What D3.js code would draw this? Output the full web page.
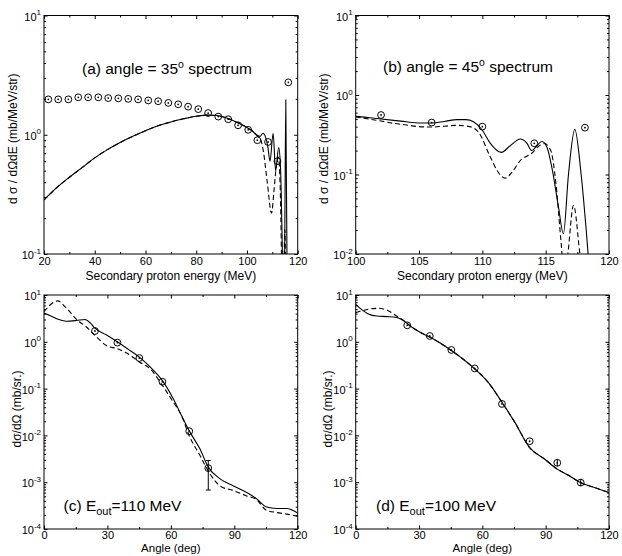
<!DOCTYPE html>
<html><head><meta charset="utf-8">
<script src="https://cdn.jsdelivr.net/npm/d3@7"></script>
<style>
body{margin:0;background:#fff}
svg text{font-family:"Liberation Sans",Arial,Helvetica,sans-serif;fill:#000}
</style>
</head><body>
<svg id="chart" width="622" height="556"></svg>
<script>
// ---------------- data ----------------
// (a) 35 degree spectrum
const expA_E = [21.7,25.6,29.6,33.5,37.4,41.4,45.3,49.3,53.2,57.1,61.1,65.0,69.0,72.9,76.8,80.8,84.7,88.7,92.6,96.5,100.5,104.1,108.3,112.0,116.3];
const expA_S = [1.98,1.98,1.98,2.06,2.06,2.06,2.03,2.02,2.00,1.98,1.94,1.91,1.85,1.80,1.72,1.64,1.52,1.42,1.35,1.20,1.10,0.90,0.87,0.60,2.75];
const solidA_E = [20,25,30,35,40,45,50,55,60,65,70,75,80,85,88,92,96,100,102,104,105.2,106.3,107.3,108.2,109.1,110.3,111.3,112.5,113.2,113.9,114.3,114.7,115.3,115.9,116.5];
const solidA_S = [0.284,0.36,0.44,0.53,0.64,0.75,0.86,0.97,1.08,1.19,1.28,1.36,1.43,1.46,1.45,1.38,1.27,1.15,1.08,0.99,0.97,1.03,0.96,0.80,0.60,1.03,0.50,0.78,0.55,0.12,0.04,0.04,1.96,0.04,0.03];
const dashA_E = [20,25,30,35,40,45,50,55,60,65,70,75,80,85,88,92,96,100,102,104,105.2,106.5,108,109.7,110.6,111.6,112.4,113.2,113.8,114.3,114.9,115.4];
const dashA_S = [0.284,0.36,0.44,0.53,0.64,0.75,0.86,0.97,1.08,1.19,1.28,1.36,1.43,1.46,1.45,1.38,1.27,1.15,1.08,0.98,0.93,0.72,0.40,0.22,0.33,0.55,0.65,0.30,0.06,0.03,0.16,0.03];

// (b) 45 degree spectrum
const expB_E = [102.0,106.0,110.0,114.1,118.1];
const expB_S = [0.56,0.45,0.40,0.247,0.388];
const solidB_E = [100,101,102,103,104,105,106,107,108,108.7,109.3,110,110.6,111.5,112.2,113,113.5,113.9,114.3,114.7,115.1,115.5,116,116.4,116.8,117.3,117.8,118.2,118.5];
const solidB_S = [0.54,0.52,0.50,0.48,0.46,0.445,0.445,0.465,0.49,0.49,0.46,0.36,0.25,0.19,0.23,0.28,0.25,0.20,0.23,0.26,0.22,0.12,0.04,0.018,0.10,0.37,0.10,0.02,0.005];
const dashB_E = [100,101,102,103,104,105,106,107,108,109,109.7,110.6,111.2,111.8,112.4,113,113.9,114.5,114.9,115.4,115.8,116.2,116.5,116.75,117.2,117.7,118];
const dashB_S = [0.53,0.50,0.47,0.44,0.42,0.40,0.395,0.405,0.415,0.40,0.34,0.17,0.11,0.09,0.11,0.15,0.185,0.23,0.245,0.20,0.08,0.015,0.005,0.01,0.041,0.01,0.004];

// (c) angular distribution, E_out = 110 MeV
const expC_A = [24.1,34.7,45.1,56.0,68.7,77.7];
const expC_S = [1.7,0.96,0.45,0.14,0.0123,0.002];
const errC_A = [77.7];
const errC_lo = [0.00068];
const errC_hi = [0.0029];
const solidC_A = [0,3,6,10.7,15.4,19.4,22,24.1,29.6,34.7,39.9,45.1,50.2,56,61.2,65.1,68.7,73.8,77.7,83.3,89.6,95.9,100.6,105.3,110,114.8,120];
const solidC_S = [4.1,3.6,3.1,2.75,2.85,3.0,2.5,1.95,1.4,1.0,0.69,0.47,0.29,0.148,0.06,0.0262,0.0125,0.0051,0.0021,0.00118,0.00083,0.0006,0.00044,0.000295,0.000275,0.000275,0.000218];
const dashC_A = [0,3,6.5,10,13,15.4,19.4,24.1,29.6,34.7,39.9,45.1,50.2,56,61.2,65.1,68.7,73.8,77.7,83.3,89.6,95.9,100.6,105.3,110,114.8,120];
const dashC_S = [4.4,6.2,7.5,5.6,4.0,3.0,2.2,1.37,0.83,0.71,0.55,0.37,0.265,0.117,0.051,0.0262,0.0098,0.0037,0.00173,0.00083,0.00066,0.00051,0.00042,0.00025,0.000225,0.000208,0.000186];

// (d) angular distribution, E_out = 100 MeV
const expD_A = [24.4,35.1,45.3,56.4,69.3,82.4,95.5,106.6];
const expD_S = [2.25,1.33,0.67,0.27,0.047,0.0075,0.0026,0.00098];
const errD_A = [95.5,106.6];
const errD_lo = [0.0022,0.00083];
const errD_hi = [0.0031,0.00116];
const solidD_A = [0,3,6,10,15,19.4,22,26.5,30.5,35.1,40,45.3,50.5,56.4,62.7,69.3,75.4,82.4,89.6,95.5,101,106.6,112,120];
const solidD_S = [6.3,4.8,3.95,3.55,3.45,3.3,2.95,2.07,1.6,1.26,0.94,0.65,0.44,0.264,0.137,0.051,0.019,0.0055,0.0031,0.0019,0.00139,0.00097,0.0008,0.0006];
const dashD_A = [0,3,6,10.7,15,19.4,22,26.5,30.5,35.1,40,45.3,50.5,56.4,62.7,69.3,75.4,82.4,89.6,95.5,101,106.6,112,120];
const dashD_S = [4.2,4.6,4.95,5.2,4.7,3.55,3.0,2.07,1.6,1.26,0.94,0.65,0.44,0.264,0.137,0.051,0.019,0.0055,0.0031,0.0019,0.00139,0.00097,0.0008,0.0006];

// tick values
const xTicksA = [20,40,60,80,100,120];
const xTicksB = [100,105,110,115,120];
const xTicksCD = [0,30,60,90,120];
const yTicksA = [0.1,1,10];
const yTicksB = [0.01,0.1,1,10];
const yTicksCD = [1e-4,1e-3,1e-2,1e-1,1,10];

// labels
const xLabelSpec = "Secondary proton energy (MeV)";
const xLabelAng = "Angle (deg)";
const yLabelSpec = "d \u03c3 / d\u03a9dE  (mb/MeV/str)";
const yLabelAng = "d\u03c3/d\u03a9 (mb/sr.)";

// ---------------- drawing ----------------
const svg = d3.select("#chart");
const FONT = "Liberation Sans, Arial, Helvetica, sans-serif";

function drawPanel(p){
  const x = d3.scaleLinear().domain(p.xDomain).range([p.left, p.right]);
  const y = d3.scaleLog().domain(p.yDomain).range([p.bottom, p.top]);
  const g = svg.append("g");
  svg.append("clipPath").attr("id","clip-"+p.id).append("rect")
    .attr("x",p.left).attr("y",p.top).attr("width",p.right-p.left).attr("height",p.bottom-p.top);

  const xMinor = d3.pairs(p.xTicks).map(([a,b]) => (a+b)/2);
  const yMinor = y.ticks().filter(v => !p.yTicks.some(t => Math.abs(v-t)/t < 1e-6));

  const style = s => { s.attr("font-size",11).attr("font-family",FONT); s.select(".domain").remove(); };

  // bottom axis
  g.append("g").attr("transform",`translate(0,${p.bottom})`)
    .call(d3.axisBottom(x).tickValues(p.xTicks).tickSize(-3.5).tickSizeOuter(0).tickPadding(p.xPad).tickFormat(d => String(d)))
    .call(style);
  g.append("g").attr("transform",`translate(0,${p.bottom})`)
    .call(d3.axisBottom(x).tickValues(xMinor).tickSize(-2).tickSizeOuter(0).tickFormat(""))
    .call(style);
  // top axis
  g.append("g").attr("transform",`translate(0,${p.top})`)
    .call(d3.axisTop(x).tickValues(p.xTicks).tickSize(-3.5).tickSizeOuter(0).tickFormat(""))
    .call(style);
  g.append("g").attr("transform",`translate(0,${p.top})`)
    .call(d3.axisTop(x).tickValues(xMinor).tickSize(-2).tickSizeOuter(0).tickFormat(""))
    .call(style);
  // left axis
  const left = g.append("g").attr("transform",`translate(${p.left},0)`)
    .call(d3.axisLeft(y).tickValues(p.yTicks).tickSize(-3.5).tickSizeOuter(0).tickPadding(3))
    .call(style);
  left.selectAll(".tick text").each(function(d){
    const t = d3.select(this);
    const e = Math.round(Math.log10(d));
    t.text(null).attr("dy","0.42em");
    t.append("tspan").text("10");
    t.append("tspan").attr("dy",-5.5).attr("font-size",8).text(String(e));
  });
  g.append("g").attr("transform",`translate(${p.left},0)`)
    .call(d3.axisLeft(y).tickValues(yMinor).tickSize(-2).tickSizeOuter(0).tickFormat(""))
    .call(style);
  // right axis
  g.append("g").attr("transform",`translate(${p.right},0)`)
    .call(d3.axisRight(y).tickValues(p.yTicks).tickSize(-3.5).tickSizeOuter(0).tickFormat(""))
    .call(style);
  g.append("g").attr("transform",`translate(${p.right},0)`)
    .call(d3.axisRight(y).tickValues(yMinor).tickSize(-2).tickSizeOuter(0).tickFormat(""))
    .call(style);

  // frame
  g.append("rect").attr("x",p.left).attr("y",p.top)
    .attr("width",p.right-p.left).attr("height",p.bottom-p.top)
    .attr("fill","none").attr("stroke","#000").attr("stroke-width",1);

  // curves
  const line = d3.line().x(d => x(d[0])).y(d => y(d[1])).curve(d3.curveMonotoneX);
  const cg = g.append("g").attr("clip-path",`url(#clip-${p.id})`);
  cg.append("path").datum(d3.zip(p.dashX,p.dashY)).attr("d",line)
    .attr("fill","none").attr("stroke","#000").attr("stroke-width",1.1).attr("stroke-dasharray","5,3");
  cg.append("path").datum(d3.zip(p.solidX,p.solidY)).attr("d",line)
    .attr("fill","none").attr("stroke","#000").attr("stroke-width",1.1);

  // error bars
  if (p.errX){
    p.errX.forEach((a,i) => {
      const xx = x(a), y1 = y(p.errLo[i]), y2 = y(p.errHi[i]);
      cg.append("line").attr("x1",xx).attr("x2",xx).attr("y1",y1).attr("y2",y2).attr("stroke","#000").attr("stroke-width",1);
      if (p.errCaps){
        [y1,y2].forEach(yy => cg.append("line").attr("x1",xx-2.5).attr("x2",xx+2.5).attr("y1",yy).attr("y2",yy).attr("stroke","#000").attr("stroke-width",1));
      }
    });
  }
  // data points
  const pts = d3.zip(p.expX,p.expY);
  cg.selectAll("circle.o").data(pts).join("circle").attr("class","o")
    .attr("cx",d => x(d[0])).attr("cy",d => y(d[1])).attr("r",3.4)
    .attr("fill","none").attr("stroke","#000").attr("stroke-width",1);
  cg.selectAll("circle.dot").data(pts).join("circle").attr("class","dot")
    .attr("cx",d => x(d[0])).attr("cy",d => y(d[1])).attr("r",0.9).attr("fill","#000");

  // axis labels
  const cx = (p.left+p.right)/2, cy = (p.top+p.bottom)/2;
  g.append("text").attr("x",cx).attr("y",p.xLabelY).attr("text-anchor","middle")
    .attr("font-size",p.xLabelSize).text(p.xLabel);
  g.append("text").attr("transform",`translate(${p.yLabelX},${cy+p.yLabelShift}) rotate(-90)`)
    .attr("text-anchor","middle").attr("font-size",12).text(p.yLabel);

  // annotation
  const t = g.append("text").attr("x",p.annX).attr("y",p.annY).attr("font-size",15.5);
  t.append("tspan").text(p.ann[0]);
  if (p.annType === "sup"){
    t.append("tspan").attr("dy",-6.5).attr("font-size",10.5).text(p.ann[1]);
    t.append("tspan").attr("dy",6.5).text(p.ann[2]);
  } else {
    t.append("tspan").attr("dy",4).attr("font-size",11).text(p.ann[1]);
    t.append("tspan").attr("dy",-4).text(p.ann[2]);
  }
}

drawPanel({id:"a", left:44, right:297.7, top:15.5, bottom:254, xDomain:[20,120], yDomain:[0.1,10],
  xTicks:xTicksA, yTicks:yTicksA, expX:expA_E, expY:expA_S, solidX:solidA_E, solidY:solidA_S,
  dashX:dashA_E, dashY:dashA_S, xPad:3, xLabel:xLabelSpec, xLabelY:280, xLabelSize:12,
  yLabel:yLabelSpec, yLabelX:16.5, yLabelShift:4,
  ann:["(a) angle = 35","o"," spectrum"], annType:"sup", annX:82, annY:74});
drawPanel({id:"b", left:355.7, right:609, top:15.5, bottom:254, xDomain:[100,120], yDomain:[0.01,10],
  xTicks:xTicksB, yTicks:yTicksB, expX:expB_E, expY:expB_S, solidX:solidB_E, solidY:solidB_S,
  dashX:dashB_E, dashY:dashB_S, xPad:3, xLabel:xLabelSpec, xLabelY:280, xLabelSize:12,
  yLabel:yLabelSpec, yLabelX:327.5, yLabelShift:4,
  ann:["(b) angle = 45","o"," spectrum"], annType:"sup", annX:383, annY:72});
drawPanel({id:"c", left:44, right:297.7, top:295, bottom:529, xDomain:[0,120], yDomain:[1e-4,10],
  xTicks:xTicksCD, yTicks:yTicksCD, expX:expC_A, expY:expC_S, solidX:solidC_A, solidY:solidC_S,
  dashX:dashC_A, dashY:dashC_S, errX:errC_A, errLo:errC_lo, errHi:errC_hi, errCaps:true,
  xPad:2, xLabel:xLabelAng, xLabelY:551.5, xLabelSize:11.5, yLabel:yLabelAng, yLabelX:21, yLabelShift:-3,
  ann:["(c) E","out","=110 MeV"], annType:"sub", annX:63.5, annY:511});
drawPanel({id:"d", left:355.7, right:609, top:295, bottom:529, xDomain:[0,120], yDomain:[1e-4,10],
  xTicks:xTicksCD, yTicks:yTicksCD, expX:expD_A, expY:expD_S, solidX:solidD_A, solidY:solidD_S,
  dashX:dashD_A, dashY:dashD_S, errX:errD_A, errLo:errD_lo, errHi:errD_hi, errCaps:false,
  xPad:2, xLabel:xLabelAng, xLabelY:551.5, xLabelSize:11.5, yLabel:yLabelAng, yLabelX:332, yLabelShift:-3,
  ann:["(d) E","out","=100 MeV"], annType:"sub", annX:376, annY:511});
</script>
</body></html>
